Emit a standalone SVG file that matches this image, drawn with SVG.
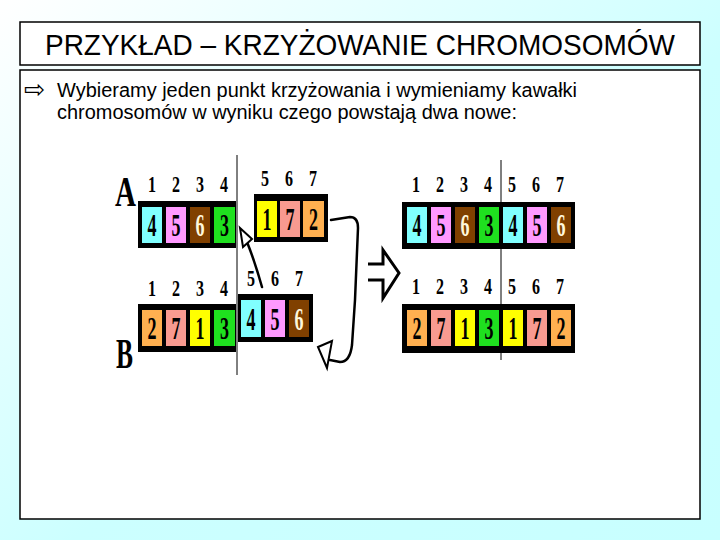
<svg xmlns="http://www.w3.org/2000/svg" width="720" height="540" viewBox="0 0 720 540">
<defs>
<linearGradient id="bg" x1="0" y1="0" x2="1" y2="1">
<stop offset="0" stop-color="#ffffff"/>
<stop offset="0.55" stop-color="#ccffff"/>
<stop offset="1" stop-color="#c8ffff"/>
</linearGradient>
<style>
.frame{fill:#ffffff;stroke:#000000;stroke-width:1.5}
.box{fill:#000000}
.lbl{font-family:"Liberation Serif","Times New Roman",serif;font-weight:bold;font-size:23px;text-anchor:middle;fill:#000000}
.cd{font-family:"Liberation Serif","Times New Roman",serif;font-weight:bold;font-size:32px;text-anchor:middle;fill:#000000}
.cw{fill:#fff8dc}
.big{font-family:"Liberation Serif","Times New Roman",serif;font-weight:bold;font-size:42px;fill:#000000}
.cy{fill:#80ffff}.pk{fill:#ff99ff}.br{fill:#804000}.gr{fill:#1fe01f}
.ye{fill:#ffff00}.sa{fill:#f89a90}.or{fill:#ffb050}
.cut{stroke:#000000;stroke-width:1}
.cur{fill:none;stroke:#000000;stroke-width:2.5;stroke-linejoin:round;stroke-linecap:round}
.head{fill:#ffffff;stroke:#000000;stroke-width:2;stroke-linejoin:miter}
</style>
</defs>
<rect x="0" y="0" width="720" height="540" fill="url(#bg)"/>

<g id="title">
<rect class="frame" x="20" y="22" width="680" height="43"/>
<text x="360" y="55" font-family="'Liberation Sans',Arial,sans-serif" font-size="29" text-anchor="middle" textLength="630" lengthAdjust="spacingAndGlyphs">PRZYKŁAD – KRZYŻOWANIE CHROMOSOMÓW</text>
</g>

<g id="content">
<rect class="frame" x="20" y="70" width="680" height="449"/>
<text x="24" y="98" font-family="'DejaVu Sans',sans-serif" font-size="25">⇨</text>
<text x="57" y="97" font-family="'Liberation Sans',Arial,sans-serif" font-size="20" textLength="520" lengthAdjust="spacingAndGlyphs">Wybieramy jeden punkt krzyżowania i wymieniamy kawałki</text>
<text x="57" y="119" font-family="'Liberation Sans',Arial,sans-serif" font-size="20" textLength="460" lengthAdjust="spacingAndGlyphs">chromosomów w wyniku czego powstają dwa nowe:</text>
</g>

<g id="cut-lines">
<line class="cut" x1="237" y1="155" x2="237" y2="375"/>
<line class="cut" x1="501" y1="160" x2="501" y2="360"/>
</g>

<g id="chromosome-A">
<text class="big" x="115" y="206" textLength="21" lengthAdjust="spacingAndGlyphs">A</text>
<text class="lbl" x="152" y="192" textLength="8" lengthAdjust="spacingAndGlyphs">1</text>
<text class="lbl" x="176" y="192" textLength="8" lengthAdjust="spacingAndGlyphs">2</text>
<text class="lbl" x="200" y="192" textLength="8" lengthAdjust="spacingAndGlyphs">3</text>
<text class="lbl" x="224" y="192" textLength="8" lengthAdjust="spacingAndGlyphs">4</text>
<rect class="box" x="138" y="201" width="98" height="47"/>
<rect class="cy" x="142" y="207" width="20" height="36"/>
<rect class="pk" x="166" y="207" width="20" height="36"/>
<rect class="br" x="190" y="207" width="20" height="36"/>
<rect class="gr" x="214" y="207" width="21" height="36"/>
<text class="cd" x="152" y="236" textLength="9" lengthAdjust="spacingAndGlyphs">4</text>
<text class="cd" x="176" y="236" textLength="9" lengthAdjust="spacingAndGlyphs">5</text>
<text class="cd cw" x="200" y="236" textLength="9" lengthAdjust="spacingAndGlyphs">6</text>
<text class="cd" x="224.5" y="236" textLength="9" lengthAdjust="spacingAndGlyphs">3</text>

<text class="lbl" x="265" y="186" textLength="8" lengthAdjust="spacingAndGlyphs">5</text>
<text class="lbl" x="289" y="186" textLength="8" lengthAdjust="spacingAndGlyphs">6</text>
<text class="lbl" x="313" y="186" textLength="8" lengthAdjust="spacingAndGlyphs">7</text>
<rect class="box" x="254" y="194" width="74" height="48"/>
<rect class="ye" x="257" y="201" width="20" height="36"/>
<rect class="sa" x="280" y="201" width="20" height="36"/>
<rect class="or" x="303" y="201" width="21" height="36"/>
<text class="cd" x="267" y="230" textLength="9" lengthAdjust="spacingAndGlyphs">1</text>
<text class="cd" x="290" y="230" textLength="9" lengthAdjust="spacingAndGlyphs">7</text>
<text class="cd" x="313.5" y="230" textLength="9" lengthAdjust="spacingAndGlyphs">2</text>
</g>

<g id="chromosome-B">
<text class="big" x="116" y="368" textLength="17" lengthAdjust="spacingAndGlyphs">B</text>
<text class="lbl" x="152" y="296" textLength="8" lengthAdjust="spacingAndGlyphs">1</text>
<text class="lbl" x="176" y="296" textLength="8" lengthAdjust="spacingAndGlyphs">2</text>
<text class="lbl" x="200" y="296" textLength="8" lengthAdjust="spacingAndGlyphs">3</text>
<text class="lbl" x="224" y="296" textLength="8" lengthAdjust="spacingAndGlyphs">4</text>
<rect class="box" x="138" y="304" width="98" height="48"/>
<rect class="or" x="142" y="310" width="20" height="36"/>
<rect class="sa" x="166" y="310" width="20" height="36"/>
<rect class="ye" x="190" y="310" width="20" height="36"/>
<rect class="gr" x="214" y="310" width="21" height="36"/>
<text class="cd" x="152" y="339" textLength="9" lengthAdjust="spacingAndGlyphs">2</text>
<text class="cd" x="176" y="339" textLength="9" lengthAdjust="spacingAndGlyphs">7</text>
<text class="cd" x="200" y="339" textLength="9" lengthAdjust="spacingAndGlyphs">1</text>
<text class="cd" x="224.5" y="339" textLength="9" lengthAdjust="spacingAndGlyphs">3</text>

<text class="lbl" x="251" y="286" textLength="8" lengthAdjust="spacingAndGlyphs">5</text>
<text class="lbl" x="275" y="286" textLength="8" lengthAdjust="spacingAndGlyphs">6</text>
<text class="lbl" x="299" y="286" textLength="8" lengthAdjust="spacingAndGlyphs">7</text>
<rect class="box" x="238" y="294" width="75" height="48"/>
<rect class="cy" x="241" y="300" width="20" height="37"/>
<rect class="pk" x="265" y="300" width="20" height="37"/>
<rect class="br" x="289" y="300" width="20" height="37"/>
<text class="cd" x="251" y="330" textLength="9" lengthAdjust="spacingAndGlyphs">4</text>
<text class="cd" x="275" y="330" textLength="9" lengthAdjust="spacingAndGlyphs">5</text>
<text class="cd cw" x="299" y="330" textLength="9" lengthAdjust="spacingAndGlyphs">6</text>
</g>

<g id="result-A">
<text class="lbl" x="416" y="192" textLength="8" lengthAdjust="spacingAndGlyphs">1</text>
<text class="lbl" x="440" y="192" textLength="8" lengthAdjust="spacingAndGlyphs">2</text>
<text class="lbl" x="464" y="192" textLength="8" lengthAdjust="spacingAndGlyphs">3</text>
<text class="lbl" x="488" y="192" textLength="8" lengthAdjust="spacingAndGlyphs">4</text>
<text class="lbl" x="512" y="192" textLength="8" lengthAdjust="spacingAndGlyphs">5</text>
<text class="lbl" x="536" y="192" textLength="8" lengthAdjust="spacingAndGlyphs">6</text>
<text class="lbl" x="560" y="192" textLength="8" lengthAdjust="spacingAndGlyphs">7</text>
<rect class="box" x="402" y="202" width="173" height="47"/>
<rect class="cy" x="407" y="207" width="20" height="36"/>
<rect class="pk" x="431" y="207" width="20" height="36"/>
<rect class="br" x="455" y="207" width="20" height="36"/>
<rect class="gr" x="479" y="207" width="20" height="36"/>
<rect class="cy" x="503" y="207" width="20" height="36"/>
<rect class="pk" x="527" y="207" width="20" height="36"/>
<rect class="br" x="551" y="207" width="20" height="36"/>
<text class="cd" x="417" y="236" textLength="9" lengthAdjust="spacingAndGlyphs">4</text>
<text class="cd" x="441" y="236" textLength="9" lengthAdjust="spacingAndGlyphs">5</text>
<text class="cd cw" x="465" y="236" textLength="9" lengthAdjust="spacingAndGlyphs">6</text>
<text class="cd" x="489" y="236" textLength="9" lengthAdjust="spacingAndGlyphs">3</text>
<text class="cd" x="513" y="236" textLength="9" lengthAdjust="spacingAndGlyphs">4</text>
<text class="cd" x="537" y="236" textLength="9" lengthAdjust="spacingAndGlyphs">5</text>
<text class="cd cw" x="561" y="236" textLength="9" lengthAdjust="spacingAndGlyphs">6</text>
</g>

<g id="result-B">
<text class="lbl" x="416" y="294" textLength="8" lengthAdjust="spacingAndGlyphs">1</text>
<text class="lbl" x="440" y="294" textLength="8" lengthAdjust="spacingAndGlyphs">2</text>
<text class="lbl" x="464" y="294" textLength="8" lengthAdjust="spacingAndGlyphs">3</text>
<text class="lbl" x="488" y="294" textLength="8" lengthAdjust="spacingAndGlyphs">4</text>
<text class="lbl" x="512" y="294" textLength="8" lengthAdjust="spacingAndGlyphs">5</text>
<text class="lbl" x="536" y="294" textLength="8" lengthAdjust="spacingAndGlyphs">6</text>
<text class="lbl" x="560" y="294" textLength="8" lengthAdjust="spacingAndGlyphs">7</text>
<rect class="box" x="402" y="304" width="173" height="49"/>
<rect class="or" x="407" y="310" width="20" height="36"/>
<rect class="sa" x="431" y="310" width="20" height="36"/>
<rect class="ye" x="455" y="310" width="20" height="36"/>
<rect class="gr" x="479" y="310" width="20" height="36"/>
<rect class="ye" x="503" y="310" width="20" height="36"/>
<rect class="sa" x="527" y="310" width="20" height="36"/>
<rect class="or" x="551" y="310" width="20" height="36"/>
<text class="cd" x="417" y="339" textLength="9" lengthAdjust="spacingAndGlyphs">2</text>
<text class="cd" x="441" y="339" textLength="9" lengthAdjust="spacingAndGlyphs">7</text>
<text class="cd" x="465" y="339" textLength="9" lengthAdjust="spacingAndGlyphs">1</text>
<text class="cd" x="489" y="339" textLength="9" lengthAdjust="spacingAndGlyphs">3</text>
<text class="cd" x="513" y="339" textLength="9" lengthAdjust="spacingAndGlyphs">1</text>
<text class="cd" x="537" y="339" textLength="9" lengthAdjust="spacingAndGlyphs">7</text>
<text class="cd" x="561" y="339" textLength="9" lengthAdjust="spacingAndGlyphs">2</text>
</g>

<g id="connectors">
<path class="cur" d="M262,287 Q255,262 247,242" stroke-width="2"/>
<polygon class="head" points="240,228 252,239 243,247"/>
<path class="cur" d="M331,220 L350,217 Q358,217 358,228 L355,300 L352,345 Q350,362 340,362 L330,360"/>
<polygon class="head" points="318,347 332,341 327,368"/>
<path d="M368,264 L383,264 L383,250 L399,273 L383,298 L383,280 L368,280" fill="none" stroke="#000000" stroke-width="3" stroke-linejoin="miter"/>
</g>
</svg>
